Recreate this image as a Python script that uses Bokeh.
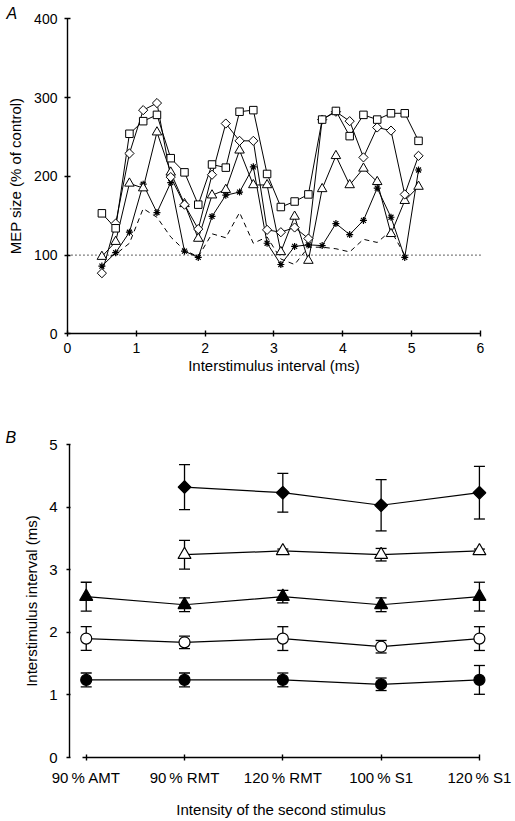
from bokeh.plotting import figure
from bokeh.layouts import column
from bokeh.models import Whisker, ColumnDataSource, FixedTicker, Label, TeeHead
from bokeh.embed import file_html
from bokeh.resources import INLINE
import math

# ---------------- Panel A data ----------------
isi = [0.5, 0.7, 0.9, 1.1, 1.3, 1.5, 1.7, 1.9, 2.1, 2.3, 2.5, 2.7,
       2.9, 3.1, 3.3, 3.5, 3.7, 3.9, 4.1, 4.3, 4.5, 4.7, 4.9, 5.1]
squares = [153, 134, 254, 270, 278, 223, 205, 164, 215, 211, 282, 284,
           203, 161, 168, 177, 272, 283, 251, 278, 272, 280, 280, 245]
diamonds = [77, 140, 229, 284, 293, 199, 164, 133, 202, 267, 245, 245,
            132, 129, 135, 121, 272, 282, 270, 224, 262, 258, 177, 226]
triangles = [98, 117, 191, 185, 256, 205, 165, 121, 176, 183, 233, 189,
             189, 104, 149, 93, 184, 226, 189, 210, 193, 127, 169, 187]
crosses = [86, 103, 129, 190, 154, 192, 105, 97, 149, 176, 180, 212,
           115, 88, 111, 113, 112, 140, 126, 144, 185, 148, 97, 208]
dashed_isi = [0.5, 0.7, 0.9, 1.1, 1.3, 1.5, 1.7, 1.9, 2.1, 2.3, 2.5, 2.7,
              2.9, 3.1, 3.3, 3.5, 3.7, 3.9, 4.1, 4.3, 4.5, 4.7, 4.9]
dashed = [95, 101, 115, 159, 148, 123, 106, 98, 127, 122, 154, 115,
          123, 95, 88, 110, 110, 108, 104, 120, 116, 131, 100]
a_xticks = [0, 1, 2, 3, 4, 5, 6]
a_yticks = [0, 100, 200, 300, 400]
control_level = 100

# ---------------- Panel B data ----------------
intensity_labels = ["90\u2009% AMT", "90\u2009% RMT", "120\u2009% RMT", "100\u2009% S1", "120\u2009% S1"]
idx_all = [0, 1, 2, 3, 4]
idx_rmt = [1, 2, 3, 4]
peak4_mean = [4.32, 4.23, 4.03, 4.23]
peak4_err = [0.36, 0.31, 0.41, 0.42]
peak3b_mean = [3.24, 3.30, 3.24, 3.30]
peak3b_err = [0.23, 0.03, 0.10, 0.03]
peak3_mean = [2.57, 2.44, 2.57, 2.44, 2.57]
peak3_err = [0.23, 0.11, 0.10, 0.11, 0.23]
peak2_mean = [1.90, 1.84, 1.90, 1.77, 1.90]
peak2_err = [0.19, 0.10, 0.19, 0.10, 0.19]
peak1_mean = [1.24, 1.24, 1.24, 1.17, 1.24]
peak1_err = [0.11, 0.11, 0.11, 0.10, 0.23]
b_yticks = [0, 1, 2, 3, 4, 5]

FONT = "Liberation Sans"


def style_axes(p, tick_size):
    p.outline_line_color = None
    p.xgrid.visible = False
    p.ygrid.visible = False
    p.background_fill_color = "white"
    p.border_fill_color = "white"
    for ax in (p.xaxis[0], p.yaxis[0]):
        ax.axis_line_color = "black"
        ax.axis_line_width = 1.4
        ax.major_tick_line_color = "black"
        ax.major_tick_line_width = 1.4
        ax.minor_tick_line_color = None
        ax.major_label_text_font = FONT
        ax.major_label_text_font_size = tick_size
        ax.major_label_text_color = "black"
        ax.axis_label_text_font = FONT
        ax.axis_label_text_font_size = "15px"
        ax.axis_label_text_font_style = "normal"
        ax.axis_label_text_color = "black"


# ---------------- Panel A ----------------
# the frame covers the whole figure; axes sit at fixed data locations
pA = figure(width=515, height=395, x_range=(-0.973, 6.509), y_range=(-78.3, 423.2),
            output_backend="svg", toolbar_location=None,
            min_border_left=0, min_border_right=0,
            min_border_top=0, min_border_bottom=0)
style_axes(pA, "14px")
pA.xaxis.fixed_location = 0
pA.yaxis.fixed_location = 0
pA.xaxis.bounds = (a_xticks[0], a_xticks[-1])
pA.yaxis.bounds = (a_yticks[0], a_yticks[-1])
pA.xaxis.ticker = FixedTicker(ticks=a_xticks)
pA.yaxis.ticker = FixedTicker(ticks=a_yticks)
pA.xaxis.major_tick_in = 3
pA.xaxis.major_tick_out = 3
pA.yaxis.major_tick_in = 3
pA.yaxis.major_tick_out = 3
pA.xaxis.major_label_standoff = 6
pA.yaxis.major_label_standoff = 7
pA.xaxis.axis_label = "Interstimulus interval (ms)"
pA.yaxis.axis_label = "MEP size (% of control)"
pA.xaxis.axis_label_standoff = 1
pA.yaxis.axis_label_standoff = 7

# dotted control line (100 %) across the whole x axis
pA.line([a_xticks[0], a_xticks[-1]], [control_level, control_level],
        line_color="black", line_width=1.3, line_dash="1 3")

pA.line(dashed_isi, dashed, line_color="black", line_width=1, line_dash="5 4")
for ys in (squares, diamonds, triangles, crosses):
    pA.line(isi, ys, line_color="black", line_width=1)

pA.scatter(isi, crosses, marker="asterisk", size=7, line_color="black", line_width=1.2)
pA.scatter(isi, triangles, marker="triangle", size=9.5, fill_color="white",
           line_color="black", line_width=1)
pA.scatter(isi, diamonds, marker="square", angle=math.pi / 4, size=6.5,
           fill_color="white", line_color="black", line_width=1)
pA.scatter(isi, squares, marker="square", size=7.5, fill_color="white",
           line_color="black", line_width=1)

pA.add_layout(Label(x=-0.886, y=418, text="A", text_font=FONT, text_font_size="16px",
                    text_font_style="italic", text_baseline="top", text_align="left",
                    text_color="black"))

# ---------------- Panel B ----------------
pB = figure(width=515, height=426, x_range=(-0.872, 4.367), y_range=(-1.022, 5.783),
            output_backend="svg", toolbar_location=None,
            min_border_left=0, min_border_right=0,
            min_border_top=0, min_border_bottom=0)
style_axes(pB, "15px")
pB.xaxis.fixed_location = 0
pB.yaxis.fixed_location = -0.17
pB.xaxis.bounds = (-0.04, 4)
pB.yaxis.bounds = (b_yticks[0], b_yticks[-1])
pB.xaxis.ticker = FixedTicker(ticks=idx_all)
pB.xaxis.major_label_overrides = {i: lab for i, lab in zip(idx_all, intensity_labels)}
pB.yaxis.ticker = FixedTicker(ticks=b_yticks)
pB.xaxis.major_tick_in = 3
pB.xaxis.major_tick_out = 3
pB.yaxis.major_tick_in = 1
pB.yaxis.major_tick_out = 3
pB.xaxis.major_label_standoff = 8
pB.yaxis.major_label_standoff = 9
pB.xaxis.axis_label = "Intensity of the second stimulus"
pB.yaxis.axis_label = "Interstimulus interval (ms)"
pB.xaxis.axis_label_standoff = 12
pB.yaxis.axis_label_standoff = 6


def series(xs, means, errs, marker, size, fill, angle=0.0):
    src = ColumnDataSource(dict(x=xs, y=means,
                                lo=[m - e for m, e in zip(means, errs)],
                                hi=[m + e for m, e in zip(means, errs)]))
    w = Whisker(base="x", upper="hi", lower="lo", source=src, dimension="height",
                line_color="black", line_width=1.3, level="underlay",
                upper_head=TeeHead(size=11, line_color="black", line_width=1.3),
                lower_head=TeeHead(size=11, line_color="black", line_width=1.3))
    pB.add_layout(w)
    pB.line("x", "y", source=src, line_color="black", line_width=1.2)
    pB.scatter("x", "y", source=src, marker=marker, size=size, angle=angle,
               fill_color=fill, line_color="black", line_width=1.2)


series(idx_all, peak1_mean, peak1_err, "circle", 11, "black")
series(idx_all, peak2_mean, peak2_err, "circle", 11, "white")
series(idx_all, peak3_mean, peak3_err, "triangle", 13, "black")
series(idx_rmt, peak3b_mean, peak3b_err, "triangle", 13, "white")
series(idx_rmt, peak4_mean, peak4_err, "square", 9, "black", angle=math.pi / 4)

pB.add_layout(Label(x=-0.821, y=5.24, text="B", text_font=FONT, text_font_size="16px",
                    text_font_style="italic", text_baseline="top", text_align="left",
                    text_color="black"))

layout = column(pA, pB, spacing=0)
open("out.html", "w").write(file_html(layout, INLINE))
